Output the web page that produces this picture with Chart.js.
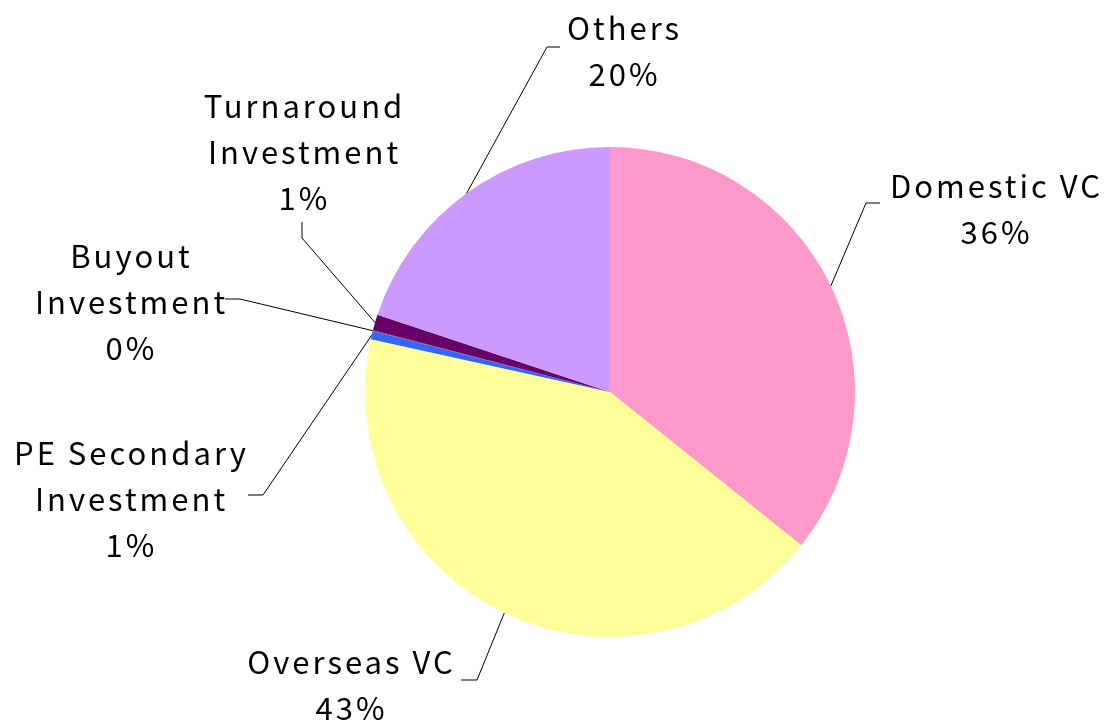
<!DOCTYPE html>
<html>
<head>
<meta charset="utf-8">
<script src="https://cdn.jsdelivr.net/npm/chart.js@4.4.0/dist/chart.umd.min.js"></script>
<style>
    html, body { margin: 0; padding: 0; background: #ffffff; }
    canvas { display: block; }
</style>
</head>
<body>
<canvas id="pie" width="1108" height="720"></canvas>
<script>
// slice data, clockwise from 12 o'clock
const categories = ['Domestic VC', 'Overseas VC', 'PE Secondary Investment', 'Buyout Investment', 'Turnaround Investment', 'Others'];
const shares = [35.75, 42.7, 0.55, 0.05, 1.05, 19.9];
const sliceColors = ['#FF99CC', '#FFFF99', '#3366FF', '#993366', '#660066', '#CC99FF'];

// label text lines (category split as in the picture)
const labelLines = [
    ['Domestic VC'],
    ['Overseas VC'],
    ['PE Secondary', 'Investment'],
    ['Buyout', 'Investment'],
    ['Turnaround', 'Investment'],
    ['Others']
];

// where each label sits, offsets from pie centre; tail = leader line start, elbow = bend
const labelLayout = [
    { x: 385, y: -206, tail: [270, -189], elbow: [256, -189] },
    { x: -260, y: 270, tail: [-149, 288], elbow: [-133, 288] },
    { x: -480, y: 61, tail: [-362, 103], elbow: [-347, 103] },
    { x: -480, y: -136, tail: [-385, -93], elbow: [-370, -93] },
    { x: -307, y: -286, tail: [-308, -170], elbow: [-308, -154] },
    { x: 13, y: -364, tail: [-50, -345], elbow: [-63, -345] }
];

const FONT = '31px "Noto Sans CJK JP", "Noto Sans", sans-serif';
const SPACING = 3;
const LINE_H = 46;

const pieLabels = {
    id: 'pieLabels',
    afterDraw(chart) {
        const ctx = chart.ctx;
        const meta = chart.getDatasetMeta(0);
        const total = shares.reduce((a, b) => a + b, 0);
        ctx.save();
        meta.data.forEach((arc, i) => {
            const lay = labelLayout[i];
            const cx = arc.x, cy = arc.y;
            const mid = (arc.startAngle + arc.endAngle) / 2;
            const ax = cx + Math.cos(mid) * arc.outerRadius;
            const ay = cy + Math.sin(mid) * arc.outerRadius;

            ctx.strokeStyle = '#000000';
            ctx.lineWidth = 1;
            ctx.beginPath();
            ctx.moveTo(cx + lay.tail[0], cy + lay.tail[1]);
            ctx.lineTo(cx + lay.elbow[0], cy + lay.elbow[1]);
            ctx.lineTo(ax, ay);
            ctx.stroke();

            const pct = Math.round(shares[i] / total * 100) + '%';
            const lines = labelLines[i].concat([pct]);
            ctx.font = FONT;
            ctx.letterSpacing = SPACING + 'px';
            ctx.fillStyle = '#000000';
            ctx.textAlign = 'center';
            ctx.textBaseline = 'middle';
            lines.forEach((t, k) => {
                // letterSpacing also pads the last glyph, so nudge right by half of it
                ctx.fillText(t, cx + lay.x + SPACING / 2, cy + lay.y + k * LINE_H);
            });
        });
        ctx.restore();
    }
};

new Chart(document.getElementById('pie'), {
    type: 'pie',
    data: {
        labels: categories,
        datasets: [{
            data: shares,
            backgroundColor: sliceColors,
            borderWidth: 0,
            hoverOffset: 0
        }]
    },
    options: {
        responsive: false,
        animation: false,
        events: [],
        layout: { padding: { left: 365, right: 253, top: 147, bottom: 83 } },
        plugins: {
            legend: { display: false },
            tooltip: { enabled: false }
        }
    },
    plugins: [pieLabels]
});
</script>
</body>
</html>
